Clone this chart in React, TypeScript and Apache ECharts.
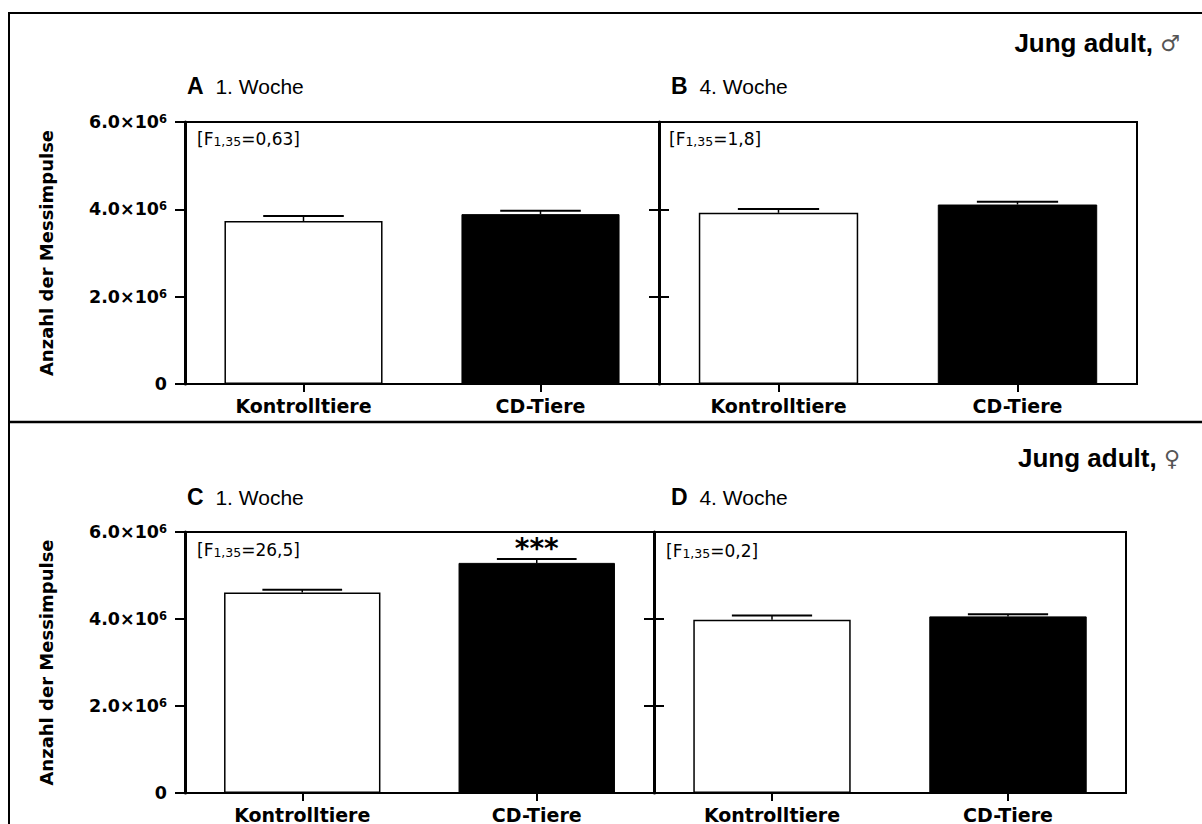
import React, { useEffect, useRef } from "react";
import * as echarts from "echarts";

// ---------------- Data ----------------
const categories = ["Kontrolltiere", "CD-Tiere"];
const panelLetters = ["A", "B", "C", "D"];
const panelWeeks = ["1. Woche", "4. Woche", "1. Woche", "4. Woche"];
const fSubscript = "1,35";
const fValues = ["0,63", "1,8", "26,5", "0,2"];

const meanA = [3.73e6, 3.89e6];
const semA = [0.12e6, 0.08e6];
const meanB = [3.92e6, 4.11e6];
const semB = [0.09e6, 0.065e6];
const meanC = [4.61e6, 5.29e6];
const semC = [0.06e6, 0.09e6];
const meanD = [3.98e6, 4.06e6];
const semD = [0.1e6, 0.05e6];

const sigA = ["", ""];
const sigB = ["", ""];
const sigC = ["", "***"];
const sigD = ["", ""];

const yMin = 0;
const yMax = 6e6;
const yStep = 2e6;
const yTickLabels = ["0", "2.0×10", "4.0×10", "6.0×10"];
const yTickExponent = "6";
const yAxisTitle = "Anzahl der Messimpulse";
const groupTitles = ["Jung adult, ", "Jung adult, "];
const groupSymbols = ["♂", "♀"];

// ---------------- Layout ----------------
const BOLD = '"DejaVu Sans", sans-serif';
const REG = '"DejaVu Sans", sans-serif';
const ARIAL = '"Liberation Sans", Arial, sans-serif';

const GRIDS = [
  { left: 185, top: 122, width: 474, height: 262 },
  { left: 659, top: 122, width: 478, height: 262 },
  { left: 185, top: 532, width: 469, height: 262 },
  { left: 654, top: 532, width: 472, height: 262 },
];

const PANEL_LABEL_POS = [
  [187, 86],
  [671, 86],
  [187, 497],
  [671, 497],
];
const F_POS = [
  [197, 139],
  [669, 139],
  [197, 550],
  [666, 551],
];
const GROUP_POS = [
  [1180, 43],
  [1180, 458],
];

const panels = [
  { mean: meanA, sem: semA, sig: sigA, labels: true },
  { mean: meanB, sem: semB, sig: sigB, labels: false },
  { mean: meanC, sem: semC, sig: sigC, labels: true },
  { mean: meanD, sem: semD, sig: sigD, labels: false },
];

function errorRender(sig: string[]) {
  return (params: any, api: any) => {
    const xi = api.value(0);
    const m = api.value(1);
    const e = api.value(2);
    const base = api.coord([xi, m]);
    const top = api.coord([xi, m + e]);
    const band = api.size([1, 0])[0];
    const half = band * 0.17;
    const children: any[] = [
      {
        type: "line",
        shape: { x1: base[0], y1: base[1], x2: top[0], y2: top[1] },
        style: { stroke: "#000", lineWidth: 1.5 },
      },
      {
        type: "line",
        shape: { x1: top[0] - half, y1: top[1], x2: top[0] + half, y2: top[1] },
        style: { stroke: "#000", lineWidth: 2 },
      },
    ];
    const s = sig[params.dataIndex];
    if (s) {
      children.push({
        type: "text",
        x: top[0],
        y: top[1] + 4,
        style: {
          text: s,
          fontSize: 28,
          fontWeight: "bold",
          fontFamily: BOLD,
          fill: "#000",
          align: "center",
          verticalAlign: "bottom",
        },
      });
    }
    return { type: "group", children };
  };
}

function buildOption() {
  const grid = GRIDS.map((g) => ({
    ...g,
    show: true,
    borderColor: "#000",
    borderWidth: 2,
    backgroundColor: "transparent",
  }));

  const xAxis = GRIDS.map((_, i) => ({
    type: "category",
    gridIndex: i,
    data: categories,
    axisLine: { show: true, lineStyle: { color: "#000", width: 2 } },
    axisTick: { show: true, alignWithLabel: true, length: 8, lineStyle: { color: "#000", width: 2 } },
    axisLabel: {
      color: "#000",
      fontFamily: BOLD,
      fontWeight: "bold",
      fontSize: 19,
      margin: 12,
    },
  }));

  const yAxis: any[] = [];
  const yIndexFor: number[] = [];
  GRIDS.forEach((_, i) => {
    const p = panels[i];
    yIndexFor.push(yAxis.length);
    yAxis.push({
      type: "value",
      gridIndex: i,
      min: yMin,
      max: yMax,
      interval: yStep,
      position: "left",
      splitLine: { show: false },
      axisLine: { show: true, lineStyle: { color: "#000", width: 3 } },
      axisTick: { show: true, length: 10, lineStyle: { color: "#000", width: 2 } },
      name: p.labels ? yAxisTitle : "",
      nameLocation: "middle",
      nameRotate: 90,
      nameGap: 130,
      nameTextStyle: {
        color: "#000",
        fontFamily: BOLD,
        fontWeight: "bold",
        fontSize: 18,
      },
      axisLabel: {
        show: p.labels,
        margin: 18,
        formatter: (v: number) => {
          const k = Math.round((v - yMin) / yStep);
          return k === 0
            ? `{n|${yTickLabels[k]}}`
            : `{n|${yTickLabels[k]}}{e|${yTickExponent}}`;
        },
        rich: {
          n: { fontFamily: BOLD, fontWeight: "bold", fontSize: 17.5, color: "#000" },
          e: {
            fontFamily: BOLD,
            fontWeight: "bold",
            fontSize: 11.5,
            color: "#000",
            verticalAlign: "top",
          },
        },
      },
    });
    if (p.labels) {
      // helper axis on right edge: ticks crossing into the neighbouring panel
      yAxis.push({
        type: "value",
        gridIndex: i,
        min: yMin,
        max: yMax,
        interval: yStep,
        position: "right",
        splitLine: { show: false },
        axisLine: { show: false },
        axisTick: { show: true, length: 10, lineStyle: { color: "#000", width: 2 } },
        axisLabel: { show: false },
      });
    }
  });

  const series: any[] = [];
  panels.forEach((p, i) => {
    series.push({
      type: "bar",
      xAxisIndex: i,
      yAxisIndex: yIndexFor[i],
      barWidth: "66.7%",
      data: p.mean.map((v, k) => ({
        value: v,
        itemStyle:
          k === 0
            ? { color: "#fff", borderColor: "#000", borderWidth: 1.5 }
            : { color: "#000", borderColor: "#000", borderWidth: 1 },
      })),
    });
    series.push({
      type: "custom",
      xAxisIndex: i,
      yAxisIndex: yIndexFor[i],
      clip: false,
      z: 5,
      encode: { x: 0, y: 1 },
      data: p.mean.map((v, k) => [k, v, p.sem[k]]),
      renderItem: errorRender(p.sig),
    });
  });

  const graphic: any[] = [
    {
      type: "rect",
      shape: { x: 9, y: 13, width: 1220, height: 840 },
      style: { fill: "none", stroke: "#000", lineWidth: 2 },
      silent: true,
    },
    {
      type: "line",
      shape: { x1: 9, y1: 422, x2: 1210, y2: 422 },
      style: { stroke: "#000", lineWidth: 2.5 },
      silent: true,
    },
  ];
  GROUP_POS.forEach((pos, g) => {
    graphic.push({
      type: "text",
      x: pos[0],
      y: pos[1],
      style: {
        text: `{b|${groupTitles[g]}}{s|${groupSymbols[g]}}`,
        align: "right",
        verticalAlign: "middle",
        rich: {
          b: { fontFamily: ARIAL, fontWeight: "bold", fontSize: 26, fill: "#000" },
          s: { fontFamily: REG, fontWeight: "normal", fontSize: 22, fill: "#555" },
        },
      },
    });
  });
  PANEL_LABEL_POS.forEach((pos, i) => {
    graphic.push({
      type: "text",
      x: pos[0],
      y: pos[1],
      style: {
        text: `{l|${panelLetters[i]}}{w| ${panelWeeks[i]}}`,
        align: "left",
        verticalAlign: "middle",
        rich: {
          l: { fontFamily: ARIAL, fontWeight: "bold", fontSize: 23, fill: "#000", padding: [0, 6, 0, 0] },
          w: { fontFamily: ARIAL, fontWeight: "normal", fontSize: 21, fill: "#000" },
        },
      },
    });
  });
  F_POS.forEach((pos, i) => {
    graphic.push({
      type: "text",
      x: pos[0],
      y: pos[1],
      style: {
        text: `{a|[F}{s|${fSubscript}}{a|=${fValues[i]}]}`,
        align: "left",
        verticalAlign: "middle",
        rich: {
          a: { fontFamily: REG, fontSize: 17, fill: "#000" },
          s: { fontFamily: REG, fontSize: 12.5, fill: "#000", verticalAlign: "bottom" },
        },
      },
    });
  });

  return {
    animation: false,
    backgroundColor: "#fff",
    textStyle: { fontFamily: REG },
    grid,
    xAxis,
    yAxis,
    series,
    graphic,
  };
}

export default function App() {
  const ref = useRef<HTMLDivElement>(null);
  useEffect(() => {
    if (!ref.current) return;
    const chart = echarts.init(ref.current, undefined, { renderer: "svg" });
    chart.setOption(buildOption() as any);
    return () => chart.dispose();
  }, []);
  return (
    <div
      ref={ref}
      style={{ position: "fixed", left: 0, top: 0, width: 1202, height: 824, background: "#fff" }}
    />
  );
}
